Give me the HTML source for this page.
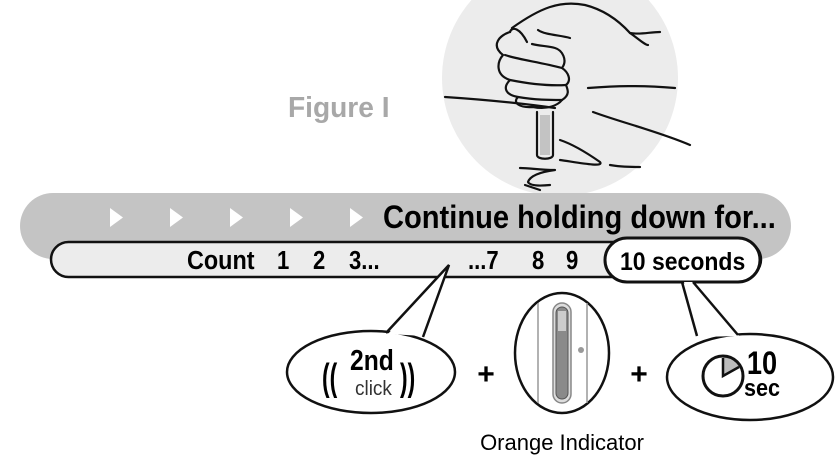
<!DOCTYPE html>
<html><head><meta charset="utf-8"><style>
html,body{margin:0;padding:0;background:#fff;}
svg{display:block;}
text{font-family:"Liberation Sans",sans-serif;}
</style></head><body>
<svg width="838" height="466" viewBox="0 0 838 466" xmlns="http://www.w3.org/2000/svg">
<defs><clipPath id="c"><rect x="0" y="0" width="838" height="196"/></clipPath></defs>
<circle cx="560" cy="78" r="118" fill="#ececec" clip-path="url(#c)"/>
<g fill="none" stroke="#111" stroke-width="2.2" stroke-linecap="round" stroke-linejoin="round">
<path d="M445 97 C490 100 520 103 555 108"/>
<path d="M593 112 C620 122 660 132 690 145"/>
<path d="M512 28 C540 8 560 0 585 5 C605 10 620 22 630 33 C640 35 650 32 660 32"/>
<path d="M527 42 C520 28 512 26 510 32"/>
<path d="M510 32 C500 35 490 45 503 55 C497 62 495 75 510 80 C502 88 506 95 518 97 C512 103 520 108 533 107 C548 110 558 105 562 100 C570 95 568 90 566 85 C572 80 568 72 562 68 C568 60 562 50 555 48 C548 46 540 46 532 44"/>
<path d="M505 55 C520 60 540 62 562 68"/>
<path d="M510 80 C530 84 550 86 566 85"/>
<path d="M518 97 C535 100 550 100 562 100"/>
<path d="M538 30 C545 35 560 35 570 38"/>
<path d="M588 88 C615 86 640 85 675 88"/>
<path d="M630 33 C640 40 645 45 648 45"/>
<path d="M537 112 L537 155 C537 160 553 160 553 155 L553 112"/>
<path d="M560 140 C575 145 590 155 600 162 C605 168 575 162 560 160"/>
<path d="M610 165 C620 167 630 167 640 167"/>
<path d="M520 168 C530 168 540 170 555 170 C540 172 530 176 528 182 C530 186 540 186 550 185"/>
<path d="M525 185 L540 190"/>
</g>
<rect x="540" y="115" width="10" height="40" fill="#999" opacity="0.5"/>
<text x="288" y="117" font-size="29" font-weight="bold" fill="#a8a8a8" transform="translate(288 0) scale(0.97 1) translate(-288 0)">Figure I</text>
<rect x="20" y="193" width="771" height="66" rx="33" fill="#c4c4c4"/>
<g fill="#fff">
<polygon points="110,208 123,217.5 110,227"/>
<polygon points="170,208 183,217.5 170,227"/>
<polygon points="230,208 243,217.5 230,227"/>
<polygon points="290,208 303,217.5 290,227"/>
<polygon points="350,208 363,217.5 350,227"/>
</g>
<text x="383" y="228" font-size="32" font-weight="bold" fill="#000" transform="translate(383 0) scale(0.91 1) translate(-383 0)">Continue holding down for...</text>
<rect x="51" y="242" width="710" height="35" rx="17.5" fill="#ececec" stroke="#111" stroke-width="2.5"/>
<rect x="605" y="238" width="155" height="44" rx="22" fill="#fff" stroke="#111" stroke-width="3"/>
<g font-weight="bold" font-size="26" fill="#000">
<text x="187" y="269" transform="translate(187 0) scale(0.9 1) translate(-187 0)">Count</text>
<text x="277" y="269" transform="translate(277 0) scale(0.85 1) translate(-277 0)">1</text>
<text x="313" y="269" transform="translate(313 0) scale(0.85 1) translate(-313 0)">2</text>
<text x="349" y="269" transform="translate(349 0) scale(0.85 1) translate(-349 0)">3...</text>
<text x="468" y="269" transform="translate(468 0) scale(0.85 1) translate(-468 0)">...7</text>
<text x="532" y="269" transform="translate(532 0) scale(0.85 1) translate(-532 0)">8</text>
<text x="566" y="269" transform="translate(566 0) scale(0.85 1) translate(-566 0)">9</text>
<text x="620" y="270" font-size="25" transform="translate(620 0) scale(0.92 1) translate(-620 0)">10 seconds</text>
</g>
<g stroke="#111" stroke-width="2.5" fill="#fff" stroke-linejoin="round">
<ellipse cx="371" cy="372" rx="84" ry="41"/>
<ellipse cx="562" cy="353" rx="47" ry="60"/>
<ellipse cx="750" cy="377" rx="83" ry="43"/>
</g>
<polygon points="388,334 449,265 424,336" fill="#fff"/>
<polyline points="386,333 449,265 423,337" fill="none" stroke="#111" stroke-width="2.5"/>
<polygon points="698,337 684,282 694,282 739,336" fill="#fff"/>
<polyline points="697,336 682,282" fill="none" stroke="#111" stroke-width="2.5"/>
<polyline points="693,282 738,335" fill="none" stroke="#111" stroke-width="2.5"/>
<text x="322" y="390" font-size="38" font-weight="bold" transform="translate(322 0) scale(0.6 1) translate(-322 0)">((</text>
<text x="400" y="390" font-size="38" font-weight="bold" transform="translate(400 0) scale(0.6 1) translate(-400 0)">))</text>
<text x="350" y="370" font-size="29" font-weight="bold" transform="translate(350 0) scale(0.85 1) translate(-350 0)">2nd</text>
<text x="355" y="395" font-size="20" fill="#333" transform="translate(355 0) scale(0.95 1) translate(-355 0)">click</text>
<text x="486" y="384" font-size="30" font-weight="bold" text-anchor="middle">+</text>
<text x="639" y="384" font-size="30" font-weight="bold" text-anchor="middle">+</text>
<g fill="none" stroke="#999" stroke-width="1.5">
<line x1="538" y1="303" x2="538" y2="403"/>
<line x1="587" y1="303" x2="587" y2="403"/>
</g>
<rect x="553" y="303" width="18" height="100" rx="9" fill="#ddd" stroke="#888" stroke-width="1.5"/>
<rect x="556" y="307" width="12" height="92" rx="6" fill="#8a8a8a" stroke="#555" stroke-width="1"/>
<rect x="558" y="311" width="8" height="20" fill="#ccc"/>
<circle cx="581" cy="350" r="3" fill="#999"/>
<text x="562" y="450" font-size="22" text-anchor="middle">Orange Indicator</text>
<path d="M723 376 L723 356 A20 20 0 0 1 740 366 Z" fill="#bbb"/>
<circle cx="723" cy="376" r="20" fill="none" stroke="#111" stroke-width="3"/>
<polyline points="723,358 723,376 739,367" fill="none" stroke="#111" stroke-width="2.5"/>
<text x="762" y="374" font-size="32" font-weight="bold" text-anchor="middle" transform="translate(762 0) scale(0.85 1) translate(-762 0)">10</text>
<text x="762" y="396" font-size="24" font-weight="bold" text-anchor="middle" transform="translate(762 0) scale(0.9 1) translate(-762 0)">sec</text>
</svg>
</body></html>
